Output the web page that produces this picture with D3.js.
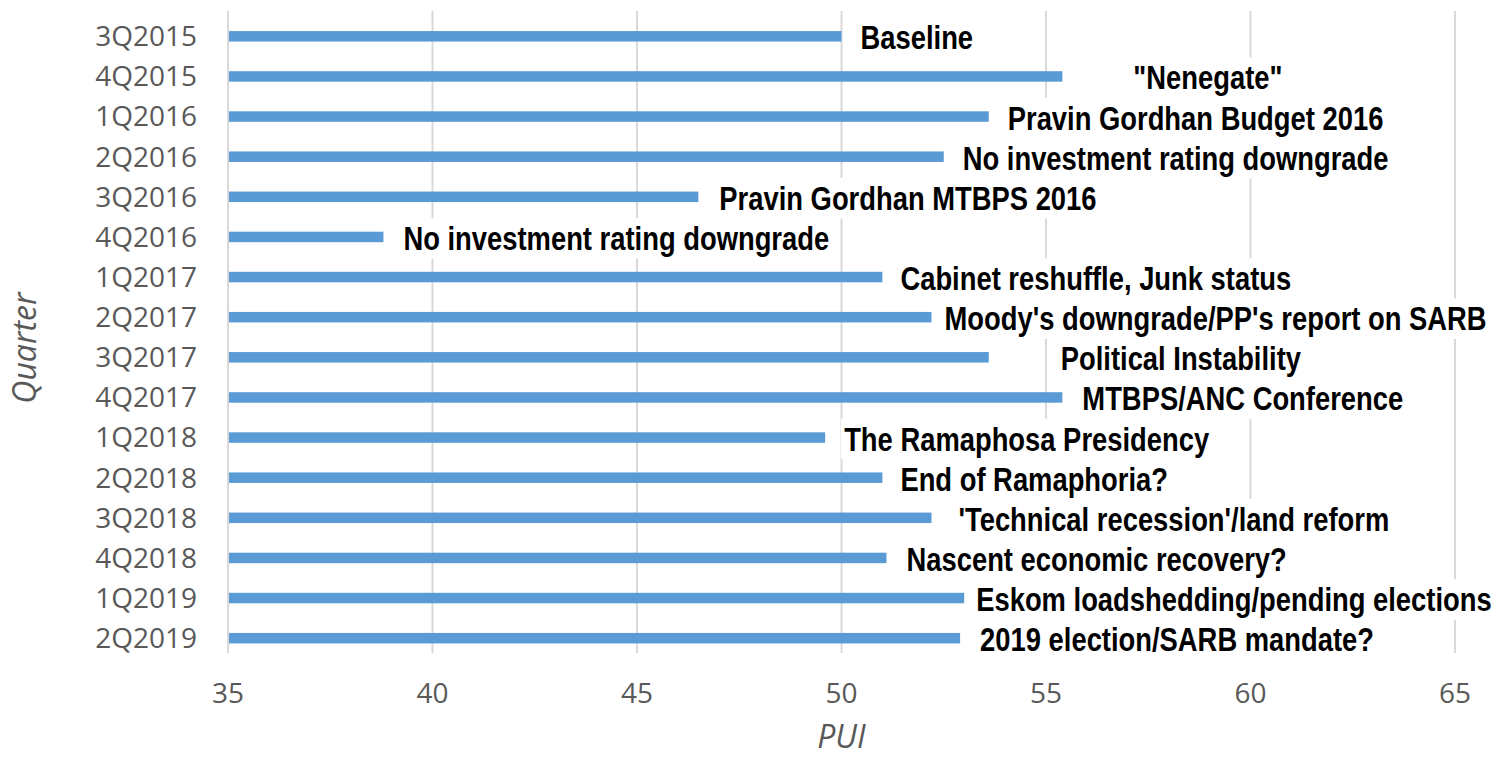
<!DOCTYPE html>
<html>
<head>
<meta charset="utf-8">
<script src="https://cdn.jsdelivr.net/npm/d3@7"></script>
<style>
  body { margin: 0; background: #fff; }
  svg { display: block; }
</style>
</head>
<body>
<script>
// Quarterly PUI with event annotations

var quarters = ["3Q2015", "4Q2015", "1Q2016", "2Q2016", "3Q2016", "4Q2016",
                "1Q2017", "2Q2017", "3Q2017", "4Q2017", "1Q2018", "2Q2018",
                "3Q2018", "4Q2018", "1Q2019", "2Q2019"];

var pui = [50.0, 55.4, 53.6, 52.5, 46.5, 38.8,
           51.0, 52.2, 53.6, 55.4, 49.6, 51.0,
           52.2, 51.1, 53.0, 52.9];

var events = ["Baseline", "\"Nenegate\"", "Pravin Gordhan Budget 2016",
              "No investment rating downgrade", "Pravin Gordhan MTBPS 2016",
              "No investment rating downgrade", "Cabinet reshuffle, Junk status",
              "Moody's downgrade/PP's report on SARB", "Political Instability",
              "MTBPS/ANC Conference", "The Ramaphosa Presidency", "End of Ramaphoria?",
              "'Technical recession'/land reform", "Nascent economic recovery?",
              "Eskom loadshedding/pending elections", "2019 election/SARB mandate?"];

var xTicks = [35, 40, 45, 50, 55, 60, 65];

// gap between bar end and its label, px (manually placed labels in the original)
var labelGap = [19, 71, 19, 19, 21, 20, 18, 13, 72, 20, 19, 18, 27, 20, 12, 20];

var W = 1497, H = 758;
var margin = {top: 11, right: 42, bottom: 105, left: 228};
var width = W - margin.left - margin.right,
    height = H - margin.top - margin.bottom;

var svg = d3.select("body").append("svg")
    .attr("width", W).attr("height", H);

var g = svg.append("g")
    .attr("transform", "translate(" + margin.left + "," + margin.top + ")");

var x = d3.scaleLinear().domain([35, 65]).range([0, width]);
var y = d3.scaleBand().domain(quarters).range([0, height]).padding(0);

var tickFont = "'Open Sans', Calibri, sans-serif";
var grey = "#595959";
var narrow = 0.805; // no narrow bold font installed, squeeze Liberation Sans Bold

// gridlines
g.append("g").selectAll("line")
  .data(xTicks).enter().append("line")
  .attr("x1", d => x(d)).attr("x2", d => x(d))
  .attr("y1", 0).attr("y2", height)
  .attr("stroke", "#d9d9d9").attr("stroke-width", 2);

// bars
var bw = y.bandwidth();
var rows = quarters.map((q, i) => ({q: q, v: pui[i], label: events[i], gap: labelGap[i]}));

g.append("g").selectAll("rect")
  .data(rows).enter().append("rect")
  .attr("x", x(35))
  .attr("y", d => y(d.q) + bw / 2)
  .attr("width", d => x(d.v) - x(35))
  .attr("height", 10.5)
  .attr("fill", "#5b9bd5");

// event labels with white boxes (they hide gridlines behind them)
var lab = g.append("g").selectAll("g")
  .data(rows).enter().append("g")
  .attr("transform", d => "translate(" + (x(d.v) + d.gap) + "," + (y(d.q) + bw / 2 + 6) + ") scale(" + narrow + ",1)");

lab.append("rect").attr("class", "bg").attr("fill", "#fff");

lab.append("text")
  .attr("dy", "0.36em")
  .attr("font-family", "'Liberation Sans Narrow', 'Arial Narrow', 'Liberation Sans', sans-serif")
  .attr("font-weight", "bold")
  .attr("font-size", 34)
  .attr("fill", "#000")
  .text(d => d.label);

lab.each(function() {
  var b = d3.select(this).select("text").node().getBBox();
  d3.select(this).select("rect.bg")
    .attr("x", b.x - 4).attr("y", b.y - 1)
    .attr("width", b.width + 8).attr("height", b.height + 2);
});

// left axis line
g.append("line")
  .attr("x1", 0).attr("x2", 0).attr("y1", 0).attr("y2", height)
  .attr("stroke", "#d9d9d9").attr("stroke-width", 2);

// y tick labels
g.append("g").selectAll("text")
  .data(quarters).enter().append("text")
  .attr("x", -31)
  .attr("y", d => y(d) + bw / 2 + 5)
  .attr("dy", "0.36em")
  .attr("text-anchor", "end")
  .attr("font-family", tickFont)
  .attr("font-size", 28)
  .attr("fill", grey)
  .text(d => d);

// x tick labels
g.append("g").selectAll("text")
  .data(xTicks).enter().append("text")
  .attr("x", d => x(d))
  .attr("y", height + 40)
  .attr("dy", "0.36em")
  .attr("text-anchor", "middle")
  .attr("font-family", tickFont)
  .attr("font-size", 28)
  .attr("fill", grey)
  .text(d => d);

// axis titles
svg.append("text")
  .text("PUI")
  .attr("x", margin.left + width / 2)
  .attr("y", 736)
  .attr("dy", "0.36em")
  .attr("text-anchor", "middle")
  .attr("font-family", tickFont)
  .attr("font-style", "italic")
  .attr("font-size", 32)
  .attr("fill", grey);

svg.append("text")
  .text("Quarter")
  .attr("transform", "translate(24,348) rotate(-90)")
  .attr("dy", "0.36em")
  .attr("text-anchor", "middle")
  .attr("font-family", tickFont)
  .attr("font-style", "italic")
  .attr("font-size", 32)
  .attr("fill", grey);
</script>
</body>
</html>
